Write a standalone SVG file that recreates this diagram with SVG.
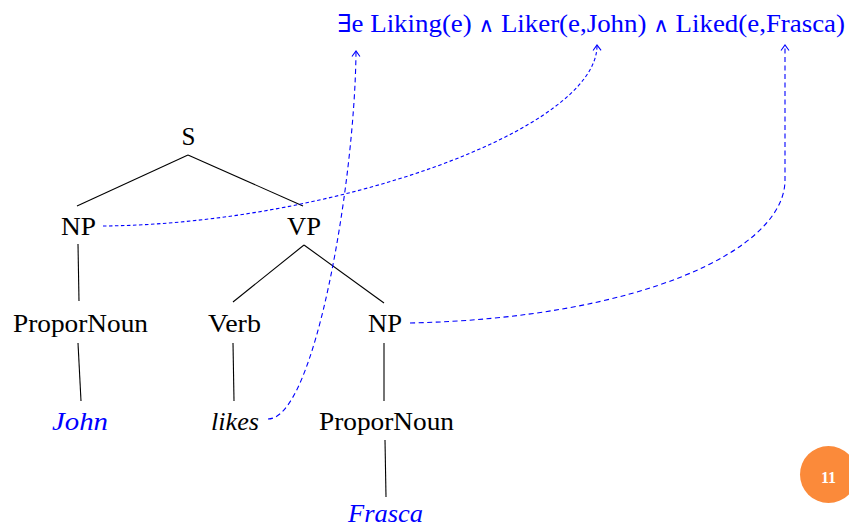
<svg xmlns="http://www.w3.org/2000/svg" width="849" height="528" viewBox="0 0 849 528">
<style>
.lbl{font-family:"Liberation Serif","Times New Roman",serif;font-size:25px;fill:#000;text-anchor:middle}
.it{font-style:italic}
.blue{fill:#0000ff}
.wedge{font-family:"DejaVu Serif","DejaVu Sans",serif;font-size:20px}
.ex{font-family:"DejaVu Serif","DejaVu Sans",serif;font-size:25px}
.edge{stroke:#000;stroke-width:1.1;fill:none}
.dash{stroke:#0000ff;stroke-width:1.1;fill:none;marker-end:url(#arr)}
</style>
<defs>
<marker id="arr" viewBox="-8 -6 10 12" refX="0" refY="0" markerWidth="10" markerHeight="12" markerUnits="userSpaceOnUse" orient="auto">
<path d="M-5.5,-4 L0,0 L-5.5,4" fill="none" stroke="#0000ff" stroke-width="1.1" stroke-dasharray="none"/>
</marker>
</defs>
<rect width="849" height="528" fill="#fff"/>
<g id="connectors">
<line class="edge" x1="188" y1="155" x2="77" y2="206"/>
<line class="edge" x1="188" y1="155" x2="303" y2="206"/>
<line class="edge" x1="78" y1="244" x2="79" y2="301"/>
<line class="edge" x1="304" y1="245" x2="233" y2="302"/>
<line class="edge" x1="304" y1="245" x2="384" y2="303"/>
<line class="edge" x1="78" y1="343" x2="81" y2="401"/>
<line class="edge" x1="233" y1="343" x2="234" y2="401"/>
<line class="edge" x1="384" y1="343" x2="384" y2="401"/>
<line class="edge" x1="385" y1="440" x2="386" y2="497"/>
<path class="dash" stroke-dasharray="3.5,2.5" d="M103,226 C330,224 598,130 597,45"/>
<path class="dash" stroke-dasharray="5,3.5" d="M268,419 C315,419 355,180 356,51"/>
<path class="dash" stroke-dasharray="5,3.5" d="M410,323 C640,318 785,250 785,180 L785,45"/>
</g>
<g id="formula"><text class="lbl blue" x="591" y="32" textLength="508" lengthAdjust="spacingAndGlyphs"><tspan class="ex">∃</tspan>e Liking(e) <tspan class="wedge">∧</tspan> Liker(e,John) <tspan class="wedge">∧</tspan> Liked(e,Frasca)</text></g>
<g id="S"><text class="lbl" x="188.5" y="145">S</text></g>
<g id="NP1"><text class="lbl" x="78.5" y="235" textLength="35" lengthAdjust="spacingAndGlyphs">NP</text></g>
<g id="VP"><text class="lbl" x="304" y="235" textLength="34" lengthAdjust="spacingAndGlyphs">VP</text></g>
<g id="PN1"><text class="lbl" x="80.5" y="332" textLength="135" lengthAdjust="spacingAndGlyphs">ProporNoun</text></g>
<g id="Verb"><text class="lbl" x="234.5" y="332" textLength="53" lengthAdjust="spacingAndGlyphs">Verb</text></g>
<g id="NP2"><text class="lbl" x="385" y="332" textLength="34" lengthAdjust="spacingAndGlyphs">NP</text></g>
<g id="John"><text class="lbl it blue" x="80" y="430" textLength="56" lengthAdjust="spacingAndGlyphs">John</text></g>
<g id="likes"><text class="lbl it" x="235" y="430" textLength="48" lengthAdjust="spacingAndGlyphs">likes</text></g>
<g id="PN2"><text class="lbl" x="386.5" y="430" textLength="135" lengthAdjust="spacingAndGlyphs">ProporNoun</text></g>
<g id="Frasca"><text class="lbl it blue" x="385.5" y="522" textLength="75" lengthAdjust="spacingAndGlyphs">Frasca</text></g>
<g id="page">
<circle cx="828.5" cy="474.5" r="28.5" fill="#fb8a3a"/>
<text x="828.5" y="483" font-family="Liberation Serif, serif" font-size="16" font-weight="bold" fill="#fff" text-anchor="middle">11</text>
</g>
</svg>
